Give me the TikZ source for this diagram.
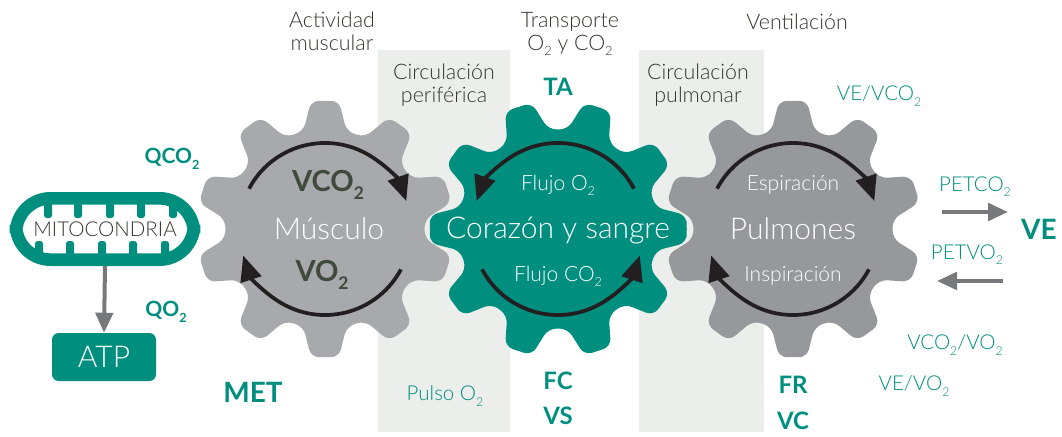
\documentclass[tikz,border=0pt]{standalone}
\usepackage{fontspec}
\setmainfont{Lato}
\newfontfamily\thinface{Lato Light}
\usetikzlibrary{arrows.meta}
\definecolor{teal1}{HTML}{008E7F}
\definecolor{band}{HTML}{ECEEEC}
\definecolor{gearA}{HTML}{A7A9AC}
\definecolor{gearB}{HTML}{97989C}
\definecolor{ink}{HTML}{35372F}
\definecolor{deep}{HTML}{3F4A3C}
\definecolor{arc}{HTML}{231F20}
\definecolor{pipe}{HTML}{77787B}
% subscript two, as used in the gas names
\newcommand{\dn}[1]{\raisebox{-.5ex}{\fontsize{.6em}{.6em}\selectfont #1}}
% px-sized type: 1 unit of the canvas is .75pt
\newcommand{\sz}[1]{\fontsize{\dimexpr #1pt*3/4\relax}{\dimexpr #1pt*4/5\relax}\selectfont}
\newcommand{\rt}{129}\newcommand{\rr}{100}\newcommand{\dt}{6.2}\newcommand{\db}{12.5}
% ten-toothed wheel outline; #1 is the angle of the first tooth
\newcommand{\gearpath}[1]{(#1:\rt) \foreach \k in {0,...,9}{ -- ({#1+36*\k+\dt}:\rt) -- ({#1+36*\k+\db}:\rr) -- ({#1+36*\k+36-\db}:\rr) -- ({#1+36*\k+36-\dt}:\rt)} -- cycle}
\tikzset{
  px/.style={x=.75pt,y=.75pt},
  head/.style={font=\thinface\sz{21.4},text=ink,align=center,inner sep=0pt},
  inwheel/.style={font=\thinface\sz{21},text=white,align=center,inner sep=0pt},
  wheelname/.style={font=\thinface\sz{30},text=white,inner sep=0pt},
  metric/.style={font=\thinface\sz{20.5},text=teal1,inner sep=0pt},
  keyvar/.style={font=\sz{24}\bfseries,text=teal1,inner sep=0pt},
  flow/.style={arc,line width=2.8pt,-{Triangle[length=19pt,width=16pt]}},
  gaspipe/.style={pipe,line width=3.2pt,-{Triangle[length=15pt,width=13pt]}},
  wheel/.style={rounded corners=6pt,draw=none}
}
\begin{document}
\begin{tikzpicture}[px]
\useasboundingbox (0,0) rectangle (1062,436);
% vertical bands behind the wheels
\fill[band] (378,4) rectangle (510,386);
\fill[band] (639,4) rectangle (764,386);
% wheel centres
\coordinate (cm) at (325,207);
\coordinate (cc) at (558,207);
\coordinate (cp) at (793,207);
% grey wheels
\fill[gearA,wheel,shift={(325,207)}] \gearpath{18};
\fill[gearB,wheel,shift={(793,207)}] \gearpath{18};
% pale rim of the central wheel, seen only over the bands
\begin{scope}
  \clip (378,0) rectangle (510,436) (639,0) rectangle (764,436);
  \draw[band,line width=7pt,wheel,shift={(558,207)}] \gearpath{0};
\end{scope}
\fill[teal1,wheel,shift={(558,207)}] \gearpath{0};
% circulation arcs
\draw[flow] ([shift={(cm)}]152:86) arc[start angle=152,end angle=19,radius=86];
\draw[flow] ([shift={(cm)}]-28:86) arc[start angle=-28,end angle=-162,radius=86];
\draw[flow] ([shift={(cc)}]28:86) arc[start angle=28,end angle=161,radius=86];
\draw[flow] ([shift={(cc)}]208:86) arc[start angle=208,end angle=342,radius=86];
\draw[flow] ([shift={(cp)}]152:86) arc[start angle=152,end angle=19,radius=86];
\draw[flow] ([shift={(cp)}]-28:86) arc[start angle=-28,end angle=-162,radius=86];
% column headings
\node[head] (hm) at (332,405) {Actividad\\muscular};
\node[head] (ht) at (570,402) {Transporte\\O\dn{2} y CO\dn{2}};
\node[head] (hv) at (797,414) {Ventilación};
\node[head] (bl) at (444,351) {Circulación\\periférica};
\node[head] (br) at (698,351) {Circulación\\pulmonar};
% wheel labels
\node[wheelname] (nm) at (329,207) {Músculo};
\node[wheelname] (nc) at (558,205) {Corazón y sangre};
\node[wheelname] (np) at (793,207) {Pulmones};
\node[font=\sz{29}\bfseries,text=deep,inner sep=0pt] (vco) at (328,251) {VCO\dn{2}};
\node[font=\sz{29}\bfseries,text=deep,inner sep=0pt] (vo) at (322,161) {VO\dn{2}};
\node[inwheel] (fo) at (558,251) {Flujo O\dn{2}};
\node[inwheel] (fc) at (558,160) {Flujo CO\dn{2}};
\node[inwheel] (es) at (793,251) {Espiración};
\node[inwheel] (in) at (793,160) {Inspiración};
% teal variables
\node[keyvar] (ta) at (558,349) {TA};
\node[keyvar] (fcx) at (558,55) {FC};
\node[keyvar] (vs) at (558,20) {VS};
\node[keyvar] (fr) at (793,51) {FR};
\node[keyvar] (vc) at (793,15) {VC};
\node[keyvar,font=\sz{28}\bfseries] (met) at (253,44) {MET};
\node[keyvar,font=\sz{28}\bfseries] (ve) at (1039,207) {VE};
\node[keyvar,font=\sz{21}\bfseries] (qco) at (172,277) {QCO\dn{2}};
\node[keyvar,font=\sz{21}\bfseries] (qo) at (166,124) {QO\dn{2}};
\node[metric] (po) at (445,40) {Pulso O\dn{2}};
\node[metric] (m1) at (879,340) {VE/VCO\dn{2}};
\node[metric] (m2) at (975,249) {PETCO\dn{2}};
\node[metric] (m3) at (967,181) {PETVO\dn{2}};
\node[metric] (m4) at (955,91) {VCO\dn{2}/VO\dn{2}};
\node[metric] (m5) at (914,50) {VE/VO\dn{2}};
% gas exchange arrows
\coordinate (g1) at (942,224);
\coordinate (g2) at (1008,224);
\coordinate (g3) at (1003,155);
\coordinate (g4) at (937,155);
\draw[gaspipe] (g1) -- (g2);
\draw[gaspipe] (g3) -- (g4);
% mitochondrion
\coordinate (mc) at (105,207);
\foreach \x in {48,78,110,141,173}
  \fill[teal1,rounded corners=2pt] (\x-4,234) rectangle (\x+4,218);
\foreach \x in {39,70,102,133,165}
  \fill[teal1,rounded corners=2pt] (\x-4,180) rectangle (\x+4,195);
\node[draw=teal1,line width=9.5pt,rounded corners=26pt,minimum width=133.5pt,minimum height=46pt,inner sep=0pt,font=\thinface\sz{20.5},text=ink] (mito) at (mc) {MITOCONDRIA};
% ATP box
\node[fill=teal1,rounded corners=5pt,minimum width=78pt,minimum height=36pt,inner sep=0pt,text=white,font=\thinface\sz{30}] (atp) at (104,79) {ATP};
\draw[pipe,line width=3pt,-{Triangle[length=15pt,width=13pt]}] (mito.south) -- (atp.north);
\end{tikzpicture}
\end{document}
